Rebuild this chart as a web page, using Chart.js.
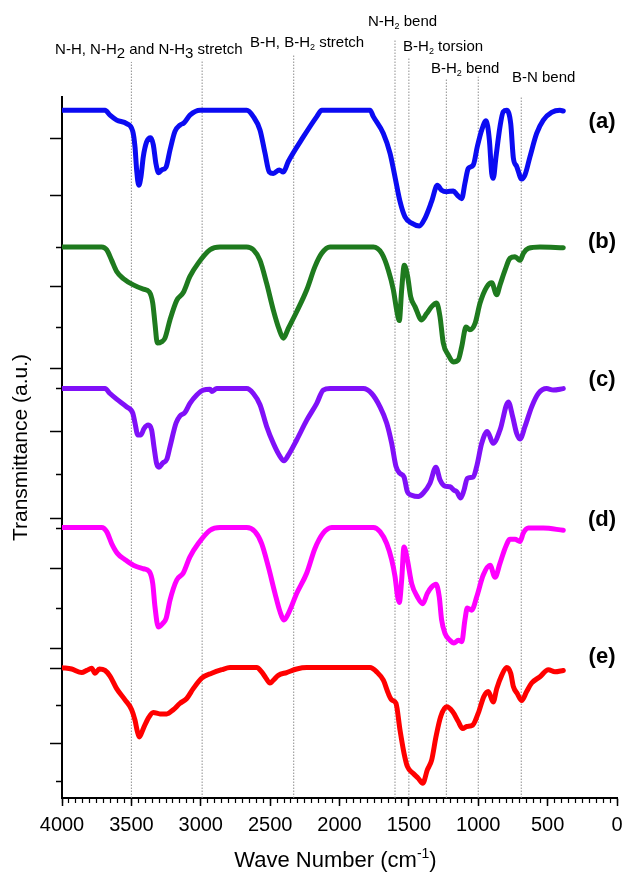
<!DOCTYPE html>
<html><head><meta charset="utf-8">
<script src="https://cdn.jsdelivr.net/npm/chart.js@4.4.1/dist/chart.umd.min.js"></script>
<style>html,body{margin:0;padding:0;background:#fff}canvas{display:block}</style>
</head><body>
<canvas id="c" width="625" height="873"></canvas>
<script>
// ---- data (wavenumber cm-1, transmittance a.u. in stacked plot units) ----
const seriesNames = ['(a)','(b)','(c)','(d)','(e)'];
const seriesColors = ['#0b0bf2','#1e7a1e','#8010f8','#ff00ff','#ff0000'];

const seriesA = [[4000,98.1],[3690,98.1],[3654,97.4],[3606,96.7],[3534,96.2],[3490,95.1],[3474,92.9],[3462,89.6],[3447,87.4],[3431,88.6],[3414,91.5],[3390,93.6],[3361,94.2],[3342,93.2],[3323,90.5],[3303,89.2],[3281,89.6],[3250,90.0],[3222,92.4],[3186,95.1],[3150,96.0],[3121,96.3],[3078,97.4],[3005,98.1],[2669,98.1],[2621,97.2],[2573,95.3],[2537,92.0],[2506,89.3],[2477,89.1],[2434,89.6],[2405,89.3],[2369,90.8],[2261,94.3],[2164,97.2],[2128,98.1],[1780,98.1],[1756,97.2],[1684,94.8],[1636,92.0],[1600,88.6],[1564,85.1],[1528,82.9],[1480,82.0],[1425,81.6],[1384,82.7],[1336,85.1],[1295,87.4],[1264,86.7],[1228,86.5],[1180,86.6],[1151,86.0],[1119,85.5],[1096,87.7],[1072,89.8],[1036,90.3],[1007,92.9],[975,95.3],[944,96.6],[920,93.9],[903,89.1],[892,88.4],[872,91.5],[843,95.8],[820,97.9],[795,98.1],[766,96.2],[747,91.3],[723,90.1],[687,88.3],[663,88.9],[627,91.5],[579,94.8],[531,96.7],[471,97.8],[411,98.1],[387,98.0]];

const seriesB = [[4000,78.6],[3714,78.6],[3678,78.2],[3642,76.7],[3606,75.1],[3558,74.1],[3486,73.2],[3414,72.6],[3371,72.2],[3346,70.6],[3330,67.7],[3313,64.9],[3281,65.1],[3258,65.6],[3222,68.2],[3173,71.0],[3126,72.1],[3078,74.4],[3018,76.3],[2933,78.2],[2861,78.6],[2669,78.6],[2621,78.2],[2573,76.7],[2525,73.4],[2477,69.6],[2434,66.8],[2405,65.6],[2369,67.0],[2308,69.4],[2236,72.5],[2177,75.8],[2128,77.7],[2068,78.6],[1756,78.6],[1696,77.7],[1648,75.3],[1612,72.5],[1588,69.6],[1569,68.1],[1552,72.5],[1533,76.0],[1509,74.4],[1487,71.5],[1456,70.1],[1408,68.2],[1372,69.1],[1336,70.1],[1300,70.6],[1276,68.7],[1252,64.9],[1216,63.2],[1180,62.2],[1144,62.5],[1119,64.4],[1088,67.2],[1060,66.8],[1023,67.7],[987,70.6],[939,72.9],[903,73.5],[867,71.8],[843,73.2],[807,75.3],[771,77.0],[735,77.2],[699,76.7],[675,77.7],[639,78.4],[555,78.6],[387,78.5]];

const seriesC = [[4000,58.4],[3690,58.4],[3654,57.7],[3606,56.9],[3534,55.8],[3490,54.9],[3474,53.5],[3454,51.8],[3431,51.8],[3409,52.7],[3378,53.2],[3354,52.5],[3337,50.1],[3318,47.7],[3301,47.2],[3274,47.8],[3245,48.3],[3222,50.1],[3178,53.5],[3150,54.5],[3114,55.0],[3078,56.3],[3029,57.5],[2982,58.2],[2933,58.3],[2921,58.0],[2885,58.4],[2669,58.4],[2621,57.7],[2573,56.1],[2525,53.0],[2477,50.6],[2434,48.9],[2400,48.1],[2369,48.9],[2308,51.1],[2236,53.9],[2164,56.3],[2117,58.2],[2068,58.4],[1829,58.4],[1768,57.7],[1708,55.8],[1660,53.5],[1624,50.6],[1593,47.3],[1564,46.3],[1535,45.8],[1511,43.7],[1480,43.2],[1432,43.0],[1396,43.5],[1348,44.9],[1305,47.2],[1276,45.4],[1240,44.5],[1204,44.4],[1175,43.9],[1155,43.7],[1127,42.8],[1103,43.9],[1079,45.6],[1036,45.8],[1011,47.3],[975,50.6],[935,52.3],[892,50.6],[843,52.5],[783,56.5],[752,54.4],[723,52.0],[699,51.2],[663,53.0],[615,55.8],[567,57.7],[507,58.4],[459,58.2],[387,58.4]];

const seriesD = [[4000,38.6],[3714,38.6],[3678,38.0],[3642,36.3],[3601,34.9],[3546,34.0],[3486,33.2],[3414,32.7],[3371,32.3],[3346,30.6],[3330,27.3],[3306,24.4],[3274,24.9],[3250,25.6],[3222,28.2],[3173,31.1],[3126,32.1],[3078,34.4],[3018,36.3],[2933,38.2],[2861,38.6],[2669,38.6],[2609,38.0],[2561,36.3],[2513,33.0],[2465,29.2],[2429,26.6],[2400,25.4],[2369,26.3],[2308,29.2],[2236,32.1],[2177,35.6],[2117,37.8],[2056,38.6],[1756,38.6],[1708,38.0],[1660,36.3],[1624,34.0],[1600,31.6],[1581,28.7],[1569,27.9],[1552,31.1],[1535,35.8],[1511,34.0],[1480,30.6],[1439,28.7],[1400,27.7],[1367,29.2],[1336,30.1],[1305,30.5],[1281,28.7],[1264,25.4],[1240,23.5],[1204,22.5],[1175,22.1],[1144,22.5],[1119,22.3],[1096,25.4],[1079,27.1],[1047,26.8],[1011,28.7],[964,31.8],[915,33.2],[879,31.5],[843,33.5],[807,35.6],[771,36.9],[735,36.9],[699,36.6],[675,37.8],[639,38.5],[531,38.5],[387,38.2]];

const seriesE = [[4000,18.6],[3930,18.4],[3858,17.9],[3822,18.2],[3786,18.5],[3762,17.8],[3731,18.4],[3690,18.2],[3654,17.4],[3606,15.6],[3546,14.0],[3498,12.6],[3474,11.1],[3457,9.5],[3443,8.7],[3414,9.9],[3378,11.4],[3342,12.2],[3294,12.0],[3245,12.0],[3198,12.6],[3150,13.5],[3101,14.2],[3054,15.6],[2993,17.1],[2921,17.8],[2849,18.3],[2789,18.6],[2597,18.6],[2561,18.0],[2530,17.1],[2501,16.4],[2477,16.8],[2441,17.5],[2381,17.9],[2308,18.4],[2236,18.6],[1780,18.6],[1732,18.0],[1684,16.8],[1648,14.9],[1624,14.0],[1593,13.5],[1564,9.7],[1535,6.4],[1511,4.5],[1468,3.5],[1432,2.8],[1400,2.1],[1367,4.0],[1336,5.4],[1305,8.7],[1271,11.6],[1228,13.0],[1184,12.3],[1144,10.9],[1112,9.9],[1083,10.2],[1040,10.4],[1000,12.1],[959,14.5],[928,15.2],[892,13.7],[867,15.6],[831,17.5],[795,18.6],[766,17.8],[747,15.9],[719,14.9],[687,13.9],[651,15.2],[615,16.4],[555,17.3],[495,18.3],[447,18.0],[387,18.2]];

// band marker lines (wavenumber) and how high they reach
const bandWaves = [3500, 2990, 2330, 1600, 1500, 1230, 1000, 690];
const bandTops  = [105.0, 105.3, 106.0, 108.1, 105.6, 102.6, 102.9, 100.1];

// axis ticks
const xTickValues = [0,500,1000,1500,2000,2500,3000,3500,4000];
const xTickLabels = ['0','500','1000','1500','2000','2500','3000','3500','4000'];
const yLongTicks  = [94.1, 86.0, 72.9, 61.3, 52.3, 39.9, 32.8, 21.3, 18.5, 7.8];
const yShortTicks = [78.6, 67.1, 58.4, 46.1, 38.5, 27.0, 13.2, 2.4];

// ---- presentation ----
const FONT = '"Liberation Sans", Arial, Helvetica, sans-serif';
const bandLabels = [
  {w:4050, u:106.2, parts:[{t:'N-H, N-H'},{t:'2',dy:4},{t:' and N-H'},{t:'3',dy:4},{t:' stretch'}]},
  {w:2645, u:107.2, parts:[{t:'B-H, B-H'},{t:'2',s:9,dy:3},{t:' stretch'}]},
  {w:1795, u:110.1, parts:[{t:'N-H'},{t:'2',s:9,dy:3},{t:' bend'}]},
  {w:1542, u:106.5, parts:[{t:'B-H'},{t:'2',s:9,dy:3},{t:' torsion'}]},
  {w:1341, u:103.4, parts:[{t:'B-H'},{t:'2',s:9,dy:3},{t:' bend'}]},
  {w:757,  u:102.2, parts:[{t:'B-N bend'}]}
];
const seriesLabelPos = {w:108, u:[96.4, 79.3, 59.6, 39.7, 20.1]};

function drawRich(ctx, x, y, parts, size){
  let cx = x;
  ctx.textAlign = 'left';
  ctx.textBaseline = 'alphabetic';
  parts.forEach(p => {
    ctx.font = (p.s || size) + 'px ' + FONT;
    ctx.fillText(p.t, cx, y + (p.dy || 0));
    cx += ctx.measureText(p.t).width;
  });
}

const textPlugin = {
  id: 'texts',
  afterDraw(chart){
    const {ctx, chartArea} = chart;
    const xs = chart.scales.x, ys = chart.scales.y;
    ctx.save();
    ctx.fillStyle = '#000';
    bandLabels.forEach(b => drawRich(ctx, xs.getPixelForValue(b.w), ys.getPixelForValue(b.u), b.parts, 15));
    ctx.font = 'bold 22px ' + FONT;
    ctx.textAlign = 'center';
    ctx.textBaseline = 'middle';
    seriesNames.forEach((n,i) => ctx.fillText(n, xs.getPixelForValue(seriesLabelPos.w), ys.getPixelForValue(seriesLabelPos.u[i])));
    // y title
    ctx.save();
    ctx.translate(chartArea.left - 41, (chartArea.top + chartArea.bottom) / 2);
    ctx.rotate(-Math.PI / 2);
    ctx.font = '21px ' + FONT;
    ctx.fillText('Transmittance (a.u.)', 0, 0);
    ctx.restore();
    // x title with superscript
    const parts = [{t:'Wave Number (cm', s:22},{t:'-1', s:14, dy:-9},{t:')', s:22}];
    let w = 0;
    parts.forEach(p => { ctx.font = p.s + 'px ' + FONT; w += ctx.measureText(p.t).width; });
    const cx = (chartArea.left + chartArea.right) / 2 - 4;
    drawRich(ctx, cx - w / 2, 867, parts, 22);
    ctx.restore();
  }
};

const curveSets = [seriesA, seriesB, seriesC, seriesD, seriesE].map((s, i) => ({
  label: seriesNames[i],
  data: s.map(p => ({x: p[0], y: p[1]})),
  borderColor: seriesColors[i],
  borderWidth: 5,
  pointRadius: 0,
  fill: false,
  cubicInterpolationMode: 'monotone',
  borderJoinStyle: 'round',
  borderCapStyle: 'round'
}));
const bandSets = bandWaves.map((w, i) => ({
  label: 'band' + i,
  data: [{x: w, y: 0}, {x: w, y: bandTops[i]}],
  borderColor: '#8f8f8f',
  borderWidth: 1,
  borderDash: [1.5, 1.5],
  pointRadius: 0,
  tension: 0,
  clip: false
}));

new Chart(document.getElementById('c'), {
  type: 'line',
  data: { datasets: curveSets.concat(bandSets) },
  options: {
    responsive: false,
    devicePixelRatio: 1,
    animation: false,
    layout: { padding: { top: 97, right: 8, bottom: 0, left: 0 } },
    plugins: { legend: { display: false }, tooltip: { enabled: false }, title: { display: false } },
    scales: {
      x: {
        type: 'linear', position: 'bottom', min: 0, max: 4000, reverse: true, weight: 1,
        afterBuildTicks: s => { s.ticks = xTickValues.map(v => ({value: v})); },
        afterFit: s => { s.height = 75; },
        ticks: { autoSkip: false, maxRotation: 0, padding: 7, color: '#000',
                 font: { family: FONT, size: 20 },
                 callback: v => xTickLabels[xTickValues.indexOf(v)] },
        grid: { drawOnChartArea: false, drawTicks: true, tickLength: 8, tickColor: '#000', tickWidth: 1.5 },
        border: { display: true, color: '#000', width: 2 }
      },
      xMinor: {
        type: 'linear', position: 'bottom', min: 0, max: 4000, reverse: true, weight: 0,
        afterBuildTicks: s => { const t = []; for (let v = 0; v <= 4000; v += 50) t.push({value: v}); s.ticks = t; },
        afterFit: s => { s.height = 0; },
        ticks: { display: false },
        grid: { drawOnChartArea: false, drawTicks: true, tickLength: 5, tickColor: '#000', tickWidth: 1.2 },
        border: { display: false }
      },
      y: {
        type: 'linear', position: 'left', min: 0, max: 100, weight: 1,
        afterBuildTicks: s => { s.ticks = yLongTicks.map(v => ({value: v})); },
        afterFit: s => { s.width = 62; },
        ticks: { display: false },
        grid: { drawOnChartArea: false, drawTicks: true, tickLength: 12, tickColor: '#000', tickWidth: 1.5 },
        border: { display: true, color: '#000', width: 2 }
      },
      yMinor: {
        type: 'linear', position: 'left', min: 0, max: 100, weight: 0,
        afterBuildTicks: s => { s.ticks = yShortTicks.map(v => ({value: v})); },
        afterFit: s => { s.width = 0; },
        ticks: { display: false },
        grid: { drawOnChartArea: false, drawTicks: true, tickLength: 6, tickColor: '#000', tickWidth: 1.5 },
        border: { display: false }
      }
    }
  },
  plugins: [textPlugin]
});
</script>
</body></html>
